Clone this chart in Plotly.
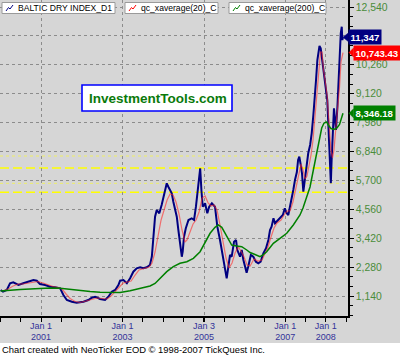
import plotly.graph_objects as go

# ---------------- data ----------------
BDI_DATES = [
    "2000-01-04", "2000-01-25", "2000-02-28", "2000-03-28", "2000-04-26", "2000-06-12", "2000-07-25",
    "2000-09-08", "2000-10-24", "2000-11-23", "2000-12-22", "2001-02-06", "2001-03-23", "2001-05-07",
    "2001-06-21", "2001-07-20", "2001-08-20", "2001-10-04", "2001-11-16", "2002-01-16", "2002-03-01",
    "2002-04-01", "2002-05-01", "2002-06-14", "2002-07-29", "2002-08-28", "2002-09-27", "2002-10-28",
    "2002-11-26", "2002-12-11", "2003-01-10", "2003-02-10", "2003-03-11", "2003-04-09", "2003-05-09",
    "2003-06-09", "2003-07-08", "2003-08-08", "2003-09-05", "2003-09-22", "2003-10-06", "2003-10-21",
    "2003-11-05", "2003-11-28", "2003-12-19", "2004-01-05", "2004-01-19", "2004-02-03", "2004-02-17",
    "2004-03-04", "2004-03-19", "2004-04-02", "2004-04-19", "2004-05-03", "2004-05-17", "2004-06-01",
    "2004-06-17", "2004-06-25", "2004-07-07", "2004-07-23", "2004-08-16", "2004-09-14", "2004-10-05",
    "2004-10-22", "2004-11-04", "2004-11-16", "2004-11-29", "2004-12-10", "2004-12-22", "2005-01-12",
    "2005-02-01", "2005-02-18", "2005-03-14", "2005-04-11", "2005-05-02", "2005-05-26", "2005-06-24",
    "2005-07-25", "2005-08-09", "2005-08-24", "2005-09-08", "2005-09-29", "2005-10-17", "2005-10-28",
    "2005-11-22", "2005-12-07", "2005-12-22", "2006-01-06", "2006-01-20", "2006-02-03", "2006-02-27",
    "2006-03-21", "2006-04-13", "2006-05-05", "2006-05-26", "2006-06-19", "2006-07-13", "2006-08-03",
    "2006-08-18", "2006-09-01", "2006-09-18", "2006-10-02", "2006-11-01", "2006-11-16", "2006-12-11",
    "2006-12-29", "2007-01-15", "2007-01-29", "2007-02-14", "2007-03-01", "2007-03-15", "2007-03-30",
    "2007-04-16", "2007-04-27", "2007-05-08", "2007-05-21", "2007-06-01", "2007-06-13", "2007-06-28",
    "2007-07-13", "2007-07-27", "2007-08-13", "2007-08-27", "2007-09-11", "2007-09-26", "2007-10-05",
    "2007-10-17", "2007-10-26", "2007-11-05", "2007-11-16", "2007-11-26", "2007-12-04", "2007-12-14",
    "2007-12-24", "2008-01-03", "2008-01-14", "2008-01-23", "2008-02-01", "2008-02-08", "2008-02-15",
    "2008-02-22", "2008-03-03", "2008-03-07", "2008-03-14", "2008-03-24", "2008-04-01", "2008-04-14",
    "2008-04-22", "2008-05-01", "2008-05-14", "2008-05-23", "2008-05-28", "2008-06-03",
]
BDI_VALUES = [
    1377, 1310, 1377, 1641, 1680, 1574, 1641,
    1704, 1771, 1744, 1613, 1574, 1507, 1483,
    1444, 1179, 982, 915, 876, 915, 982,
    1073, 1112, 1022, 982, 1112, 1310, 1377,
    1574, 1744, 1771, 1641, 1838, 2099, 2233,
    2272, 2233, 2272, 2363, 2690, 3614, 4268,
    4533, 4402, 4730, 5057, 5389, 5586, 5452,
    5322, 5192, 4860, 4533, 4268, 3744, 3219,
    2690, 2888, 3480, 3811, 4138, 4205, 4138,
    4663, 5192, 5586, 6178, 5322, 4663, 4797,
    4402, 4663, 4797, 4663, 3874, 3349, 2690,
    1838, 2296, 2757, 2690, 3282, 3349, 2955,
    2690, 2955, 2560, 2296, 2059, 2296, 2757,
    2690, 2493, 2430, 2493, 2824, 3022, 3349,
    3744, 3874, 4205, 4008, 4138, 4205, 4335,
    4600, 4402, 4335, 4663, 5057, 5322, 5716,
    6032, 6505, 6635, 6308, 5981, 5255, 5846,
    6308, 6770, 7097, 7558, 8280, 9002, 9661,
    10450, 10845, 11003, 10912, 10580, 10320, 9926,
    9791, 9397, 8872, 7953, 6770, 5846, 5586,
    6505, 7558, 8213, 8545, 8083, 7689, 8608,
    9397, 10450, 11503, 11764, 11239, 11347,
]

MA20_DATES = [
    "2000-01-26", "2000-03-11", "2000-04-25", "2000-06-09", "2000-07-23", "2000-09-06", "2000-10-21",
    "2000-12-05", "2001-01-19", "2001-03-05", "2001-04-19", "2001-06-03", "2001-07-08", "2001-08-13",
    "2001-09-18", "2001-11-02", "2001-12-17", "2002-02-09", "2002-04-04", "2002-05-19", "2002-07-02",
    "2002-08-16", "2002-09-21", "2002-10-27", "2002-12-02", "2003-01-07", "2003-02-12", "2003-03-20",
    "2003-04-25", "2003-05-30", "2003-07-14", "2003-08-28", "2003-09-24", "2003-10-21", "2003-11-17",
    "2003-12-14", "2004-01-10", "2004-02-06", "2004-03-04", "2004-03-31", "2004-04-26", "2004-05-23",
    "2004-06-19", "2004-07-16", "2004-08-03", "2004-08-30", "2004-09-26", "2004-10-23", "2004-11-19",
    "2004-12-16", "2005-01-12", "2005-02-08", "2005-03-07", "2005-04-03", "2005-04-29", "2005-05-26",
    "2005-06-22", "2005-07-19", "2005-08-15", "2005-09-11", "2005-10-08", "2005-11-04", "2005-12-01",
    "2005-12-28", "2006-01-24", "2006-02-20", "2006-03-27", "2006-05-02", "2006-06-07", "2006-07-04",
    "2006-07-31", "2006-08-27", "2006-09-23", "2006-10-20", "2006-11-25", "2006-12-22", "2007-01-18",
    "2007-02-14", "2007-03-12", "2007-04-08", "2007-05-05", "2007-05-23", "2007-06-10", "2007-06-28",
    "2007-07-16", "2007-08-03", "2007-08-21", "2007-09-08", "2007-09-26", "2007-10-14", "2007-11-01",
    "2007-11-14", "2007-11-28", "2007-12-11", "2007-12-25", "2008-01-12", "2008-01-29", "2008-02-16",
    "2008-03-01", "2008-03-14", "2008-03-28", "2008-04-15", "2008-05-03", "2008-05-16", "2008-06-03",
]
MA20_VALUES = [
    1337, 1416, 1535, 1613, 1613, 1653, 1692,
    1712, 1653, 1574, 1514, 1475, 1416, 1219,
    1041, 923, 884, 943, 1022, 1061, 1041,
    1022, 1140, 1298, 1495, 1653, 1692, 1732,
    1968, 2166, 2225, 2284, 2442, 2876, 3507,
    4138, 4533, 4927, 5164, 5124, 4848, 4375,
    3744, 3270, 3349, 3704, 3980, 4138, 4454,
    5006, 5085, 4809, 4691, 4730, 4533, 3941,
    3231, 2639, 2245, 2442, 2836, 3073, 2915,
    2679, 2363, 2324, 2600, 2521, 2560, 2797,
    3073, 3468, 3823, 4020, 4138, 4335, 4493,
    4493, 4848, 5401, 6032, 6347, 6111, 5756,
    5874, 6269, 6702, 7294, 8280, 9346, 10371,
    10766, 10766, 10056, 9661, 9069, 8004, 6900,
    6584, 6900, 7610, 8478, 9385, 10371, 10743.43,
]

MA200_DATES = [
    "2000-01-03", "2000-03-29", "2000-06-27", "2000-09-24", "2000-12-23", "2001-03-23", "2001-06-21",
    "2001-09-18", "2001-12-17", "2002-03-17", "2002-06-14", "2002-09-12", "2002-12-11", "2003-03-11",
    "2003-06-08", "2003-09-06", "2003-10-21", "2003-12-05", "2004-02-03", "2004-04-02", "2004-06-01",
    "2004-08-01", "2004-09-29", "2004-11-28", "2005-01-12", "2005-02-26", "2005-04-11", "2005-05-11",
    "2005-06-11", "2005-07-25", "2005-09-08", "2005-10-23", "2005-12-07", "2006-01-21", "2006-02-20",
    "2006-04-05", "2006-05-20", "2006-06-16", "2006-07-19", "2006-08-18", "2006-09-17", "2006-11-16",
    "2007-01-15", "2007-03-15", "2007-05-14", "2007-06-10", "2007-07-13", "2007-08-12", "2007-09-11",
    "2007-10-11", "2007-11-01", "2007-11-25", "2007-12-16", "2008-01-09", "2008-01-23", "2008-02-16",
    "2008-03-14", "2008-04-10", "2008-05-03", "2008-05-21", "2008-06-03",
]
MA200_VALUES = [
    1337, 1377, 1396, 1416, 1444, 1456, 1444,
    1396, 1349, 1318, 1286, 1278, 1278, 1349,
    1444, 1535, 1633, 1830, 2099, 2296, 2430,
    2493, 2627, 2888, 3282, 3614, 3850, 3941,
    3850, 3480, 3152, 3113, 3085, 2955, 2856,
    2777, 2690, 2757, 2888, 3053, 3219, 3416,
    3614, 3941, 4335, 4612, 5006, 5440, 6111,
    6781, 7294, 7768, 7965, 8004, 7886, 7748,
    7708, 7768, 7906, 8123, 8346.18,
]

SERIES_NAMES = ["BALTIC DRY INDEX_D1", "qc_xaverage(20)_C", "qc_xaverage(200)_C"]
SERIES_COLORS = ["#000080", "#ff0000", "#008000"]

YELLOW_DOTTED_LEVELS = [6663, 5586]
YELLOW_DASHED_LEVELS = [6190, 5231]

Y_TICKS = [1140, 2280, 3420, 4560, 5700, 6840, 7980, 9120, 10260, 11400, 12540]
Y_TICK_TEXT = ["1,140", "2,280", "3,420", "4,560", "5,700", "6,840", "7,980", "9,120", "10,260", "", "12,540"]
X_TICKS = ["2001-01-01", "2003-01-01", "2005-01-03", "2007-01-01", "2008-01-01"]
X_TICK_TEXT = ["Jan 1<br>2001", "Jan 1<br>2003", "Jan 3<br>2005", "Jan 1<br>2007", "Jan 1<br>2008"]

FOOTNOTE = "Chart created with NeoTicker EOD \u00a9 1998-2007 TickQuest Inc."
WATERMARK = "InvestmentTools.com"

# ---------------- layout helpers ----------------
W, H = 400, 355
ML, MR, MT, MB = 0, 52, 0, 39
PW, PH = W - ML - MR, H - MT - MB
Y_RANGE = [351, 12817]
X_RANGE = ["1999-12-29", "2008-07-18"]
FONT = "Arial, 'Liberation Sans', sans-serif"
BG = "#d6d6d6"


def px(x):
    return x / PW


def py(y):
    return 1 - y / PH


UNITS_PER_PX = (Y_RANGE[1] - Y_RANGE[0]) / PH

fig = go.Figure()
fig.add_trace(go.Scatter(x=BDI_DATES, y=BDI_VALUES, mode="lines", name=SERIES_NAMES[0],
                         line=dict(color="#000080", width=2)))
fig.add_trace(go.Scatter(x=MA20_DATES, y=MA20_VALUES, mode="lines", name=SERIES_NAMES[1],
                         line=dict(color="rgba(255,40,40,0.6)", width=1.2)))
fig.add_trace(go.Scatter(x=MA200_DATES, y=MA200_VALUES, mode="lines", name=SERIES_NAMES[2],
                         line=dict(color="#008000", width=1.5)))

shapes = []
for lv in YELLOW_DOTTED_LEVELS:
    shapes.append(dict(type="line", xref="paper", x0=0, x1=1, yref="y", y0=lv, y1=lv,
                       line=dict(color="#eeee66", width=1, dash="dot"), layer="between"))
for lv in YELLOW_DASHED_LEVELS:
    shapes.append(dict(type="line", xref="paper", x0=0, x1=1, yref="y", y0=lv, y1=lv,
                       line=dict(color="#ffff00", width=1.5, dash="9px,4px"), layer="between"))

# footnote strip (white)
shapes.append(dict(type="rect", xref="paper", yref="paper", x0=px(-2), x1=px(W + 2),
                   y0=py(H + 2), y1=py(343), fillcolor="white", line=dict(width=0), layer="below"))

# legend boxes
LEG_BOXES = [(2, 115), (125, 218), (229, 326)]
annotations = []
for (x0, x1), name, col in zip(LEG_BOXES, SERIES_NAMES, SERIES_COLORS):
    shapes.append(dict(type="rect", xref="paper", yref="paper", x0=px(x0), x1=px(x1),
                       y0=py(13.5), y1=py(2.5), fillcolor="white",
                       line=dict(color="#9a9a9a", width=1), layer="above"))
    ix = x0 + 4
    path = "M {} {} L {} {} L {} {} L {} {}".format(
        px(ix), py(11), px(ix + 2.5), py(7.5), px(ix + 4), py(9), px(ix + 7), py(5))
    shapes.append(dict(type="path", xref="paper", yref="paper", path=path,
                       line=dict(color=col, width=1), layer="above"))
    annotations.append(dict(x=px(ix + 10), y=py(8), xref="paper", yref="paper", text=name,
                            showarrow=False, xanchor="left", yanchor="middle",
                            font=dict(family=FONT, size=8.6, color="black")))

# watermark box
shapes.append(dict(type="rect", xref="paper", yref="paper", x0=px(82), x1=px(232),
                   y0=py(111), y1=py(85), fillcolor="white",
                   line=dict(color="#0000ff", width=1.6), layer="above"))
annotations.append(dict(x=px(158), y=py(98.5), xref="paper", yref="paper", text="<b>" + WATERMARK + "</b>",
                        showarrow=False, xanchor="center", yanchor="middle",
                        font=dict(family=FONT, size=13.5, color="#0a7a0a")))

# last-value tags on the right axis
LAST_TAGS = [
    (BDI_VALUES[-1], "{:,.0f}".format(BDI_VALUES[-1]), "#000080", 348, 343),
    (MA20_VALUES[-1], "{:,.2f}".format(MA20_VALUES[-1]), "#ff0000", 353, 349),
    (MA200_VALUES[-1], "{:,.2f}".format(MA200_VALUES[-1]), "#008000", 353, 349),
]
for val, txt, col, bx, tip in LAST_TAGS:
    half = 4.5 * UNITS_PER_PX
    path = "M {} {} L {} {} L {} {} Z".format(px(tip), val, px(bx + 0.5), val + half, px(bx + 0.5), val - half)
    shapes.append(dict(type="path", xref="paper", yref="y", path=path, fillcolor=col,
                       line=dict(color=col, width=0.5), layer="above"))
    annotations.append(dict(x=px(bx), y=val, xref="paper", yref="y", text="<b>" + txt + "</b>",
                            showarrow=False, xanchor="left", yanchor="middle", bgcolor=col,
                            borderpad=1.5, font=dict(family=FONT, size=9.6, color="white")))

annotations.append(dict(x=px(0), y=py(349.5), xref="paper", yref="paper", text=FOOTNOTE,
                        showarrow=False, xanchor="left", yanchor="middle",
                        font=dict(family=FONT, size=9.4, color="black")))

fig.update_layout(
    width=W, height=H, margin=dict(l=ML, r=MR, t=MT, b=MB, pad=0),
    paper_bgcolor=BG, plot_bgcolor=BG, showlegend=False,
    shapes=shapes, annotations=annotations,
    xaxis=dict(type="date", range=X_RANGE, tickvals=X_TICKS, ticktext=X_TICK_TEXT,
               ticks="outside", ticklen=4, tickcolor="black", showline=True, linecolor="black",
               linewidth=1.5, showgrid=True, gridcolor="#8c8c8c", griddash="dot", gridwidth=1,
               zeroline=False, tickfont=dict(family=FONT, size=9, color="#333399"),
               ticklabelstandoff=-4,
               minor=dict(ticks="outside", ticklen=4, tickcolor="black", dtick="M6",
                          tick0="2000-01-01", showgrid=False)),
    yaxis=dict(side="right", range=Y_RANGE, tickvals=Y_TICKS, ticktext=Y_TICK_TEXT,
               ticks="outside", ticklen=4, tickcolor="black", showline=True, linecolor="black",
               linewidth=1.5, showgrid=True, gridcolor="#8c8c8c", griddash="dot", gridwidth=1,
               zeroline=False, tickfont=dict(family=FONT, size=10.4, color="#4a8c3a"),
               minor=dict(ticks="outside", ticklen=3, tickcolor="black", dtick=380, tick0=0,
                          showgrid=False)),
)

fig.write_html("out.html")
